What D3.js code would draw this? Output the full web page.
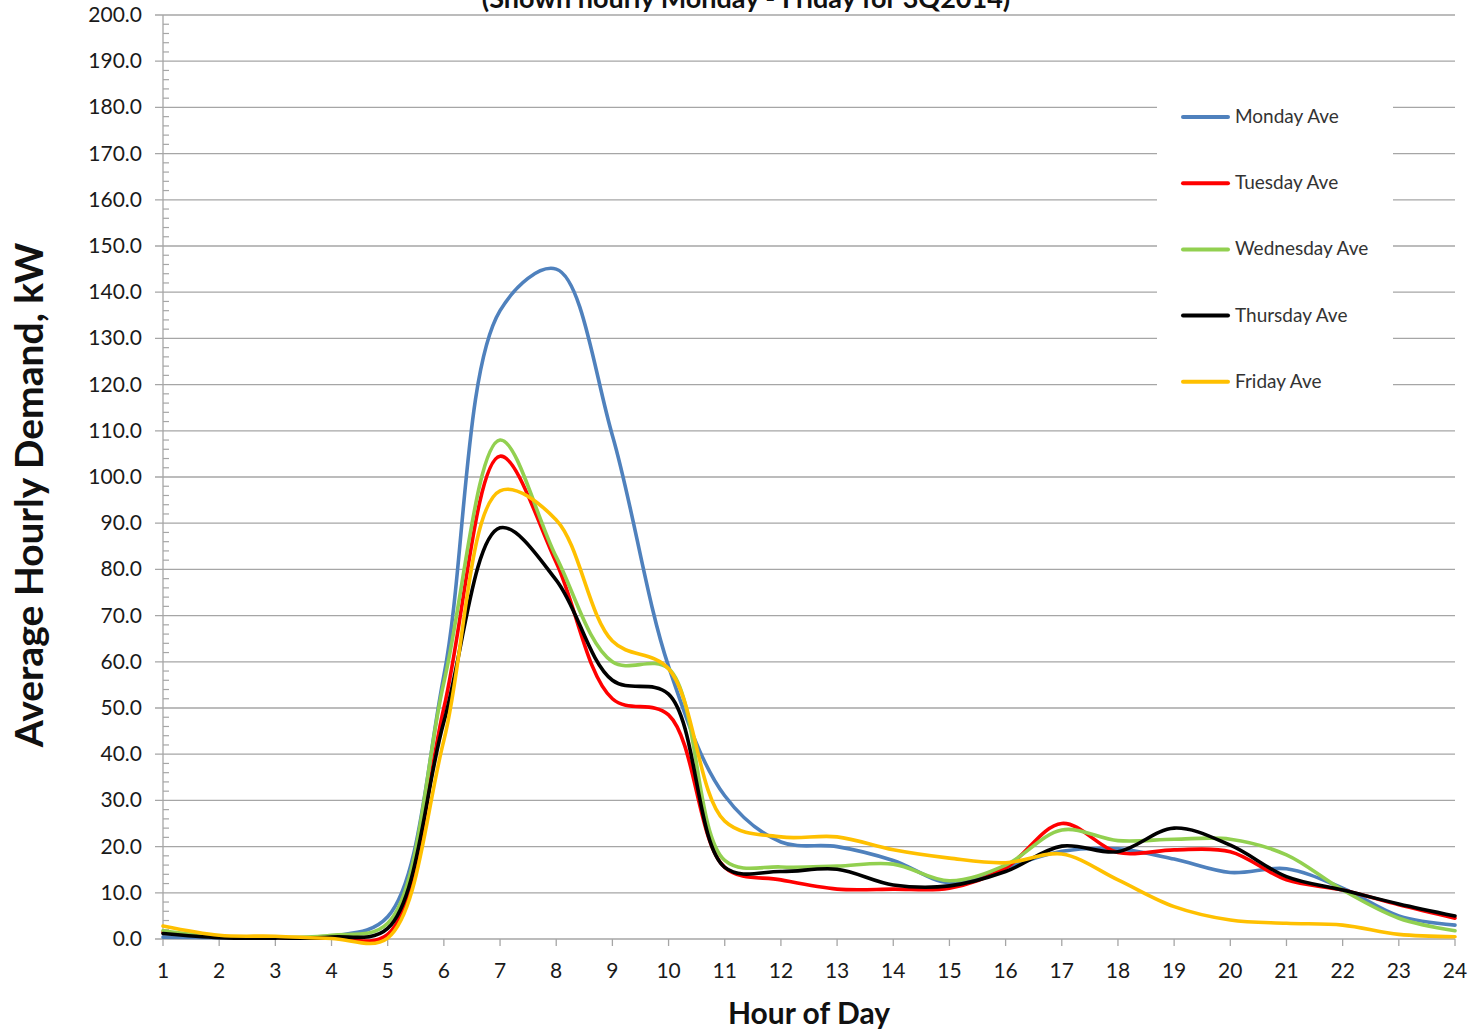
<!DOCTYPE html>
<html>
<head>
<meta charset="utf-8">
<script src="https://cdn.jsdelivr.net/npm/d3@7"></script>
<style>
  html, body { margin: 0; padding: 0; background: #fff; }
  svg { display: block; }
</style>
</head>
<body>
<div id="chart"></div>
<script>
// hourly averages, kW
const hours = d3.range(1, 25);
const mondayAve    = [0.4, 0.3, 0.2, 0.6, 4.8, 57, 136, 145, 109, 59, 31, 21, 20, 17, 12.2, 15.5, 19, 19.5, 17.3, 14.4, 15.2, 11, 5, 3];
const tuesdayAve   = [1.5, 0.5, 0.3, 0.2, 1.0, 50, 104.5, 81.5, 52, 48.5, 15.5, 12.8, 10.8, 10.8, 11, 15.4, 25, 18.7, 19.3, 18.9, 12.8, 10.6, 7.4, 4.5];
const wednesdayAve = [1.8, 0.5, 0.3, 0.8, 3.4, 55.5, 108, 82.7, 60, 58.5, 17, 15.6, 15.8, 16.2, 12.6, 16, 23.6, 21.3, 21.6, 21.6, 18.2, 10.6, 4.5, 1.8];
const thursdayAve  = [1.2, 0.3, 0.2, 0.4, 2.3, 47, 89, 77.7, 56, 53, 15.5, 14.6, 15.1, 11.7, 11.5, 14.6, 20.1, 18.9, 24, 20.3, 13.5, 10.6, 7.6, 5];
const fridayAve    = [2.8, 0.8, 0.6, 0.1, 0.2, 43, 97, 90.7, 64.5, 58.5, 25.5, 22.1, 22.1, 19.3, 17.5, 16.5, 18.4, 12.8, 7, 4.1, 3.4, 3, 1, 0.5];

const seriesNames  = ['Monday Ave', 'Tuesday Ave', 'Wednesday Ave', 'Thursday Ave', 'Friday Ave'];
const seriesColors = ['#4F81BD', '#FF0000', '#92D050', '#000000', '#FFC000'];
const seriesValues = [mondayAve, tuesdayAve, wednesdayAve, thursdayAve, fridayAve];

const yTicks = d3.range(0, 201, 10);
const yMinor = d3.range(0, 201, 2);

const W = 1480, H = 1030, mL = 163, mR = 25, mT = 15, mB = 91;
const FONT = "Lato, 'Open Sans', sans-serif";
const GRID = '#a6a6a6';

const svg = d3.select('#chart').append('svg').attr('width', W).attr('height', H);
const x = d3.scaleLinear().domain([1, 24]).range([mL, W - mR]);
const y = d3.scaleLinear().domain([0, 200]).range([H - mB, mT]);

// gridlines + major ticks (outside) + labels
yTicks.forEach(t => {
  svg.append('line').attr('x1', mL - 8).attr('x2', W - mR).attr('y1', y(t)).attr('y2', y(t))
    .attr('stroke', GRID).attr('stroke-width', 1.3);
  svg.append('text').attr('x', mL - 21).attr('y', y(t) + 7).attr('text-anchor', 'end')
    .attr('font-family', FONT).attr('font-size', 21).attr('fill', '#1a1a1a').text(t.toFixed(1));
});
// minor ticks inside
yMinor.filter(t => t % 10 !== 0).forEach(t => {
  svg.append('line').attr('x1', mL).attr('x2', mL + 6).attr('y1', y(t)).attr('y2', y(t))
    .attr('stroke', GRID).attr('stroke-width', 1.2);
});
svg.append('line').attr('x1', mL).attr('x2', mL).attr('y1', y(200)).attr('y2', y(0))
  .attr('stroke', GRID).attr('stroke-width', 1.3);

// x axis ticks + labels
hours.forEach(h => {
  svg.append('line').attr('x1', x(h)).attr('x2', x(h)).attr('y1', y(0)).attr('y2', y(0) + 7)
    .attr('stroke', GRID).attr('stroke-width', 1.3);
  svg.append('text').attr('x', x(h)).attr('y', y(0) + 39).attr('text-anchor', 'middle')
    .attr('font-family', FONT).attr('font-size', 21).attr('fill', '#1a1a1a').text(h);
});

// legend background hides gridlines behind it
const lgX = 1157, lgY = 90, lgW = 236, lgH = 316;
svg.append('rect').attr('x', lgX).attr('y', lgY).attr('width', lgW).attr('height', lgH).attr('fill', '#fff');

// series (Excel-style smoothing)
const line = d3.line().x((d, i) => x(hours[i])).y(d => y(d)).curve(d3.curveCatmullRom.alpha(0.5));
seriesValues.forEach((vals, k) => {
  svg.append('path').datum(vals).attr('d', line).attr('fill', 'none')
    .attr('stroke', seriesColors[k]).attr('stroke-width', 3.6)
    .attr('stroke-linejoin', 'round').attr('stroke-linecap', 'round');
});

// legend entries
seriesNames.forEach((name, k) => {
  const ly = 117 + k * 66.2;
  svg.append('line').attr('x1', 1183).attr('x2', 1228).attr('y1', ly).attr('y2', ly)
    .attr('stroke', seriesColors[k]).attr('stroke-width', 4).attr('stroke-linecap', 'round');
  svg.append('text').attr('x', 1235).attr('y', ly + 6).attr('font-family', FONT)
    .attr('font-size', 19).attr('fill', '#333').text(name);
});

// titles
svg.append('text').attr('x', 746).attr('y', 8).attr('text-anchor', 'middle')
  .attr('font-family', FONT).attr('font-weight', 700).attr('font-size', 27).attr('fill', '#111')
  .text('(Shown hourly Monday - Friday for 3Q2014)');
svg.append('text').attr('x', 809).attr('y', 1024).attr('text-anchor', 'middle')
  .attr('font-family', FONT).attr('font-weight', 700).attr('font-size', 30).attr('fill', '#111')
  .text('Hour of Day');
svg.append('text').attr('transform', 'translate(43,495) rotate(-90)').attr('text-anchor', 'middle')
  .attr('font-family', FONT).attr('font-weight', 700).attr('font-size', 39).attr('fill', '#111')
  .text('Average Hourly Demand, kW');
</script>
</body>
</html>
